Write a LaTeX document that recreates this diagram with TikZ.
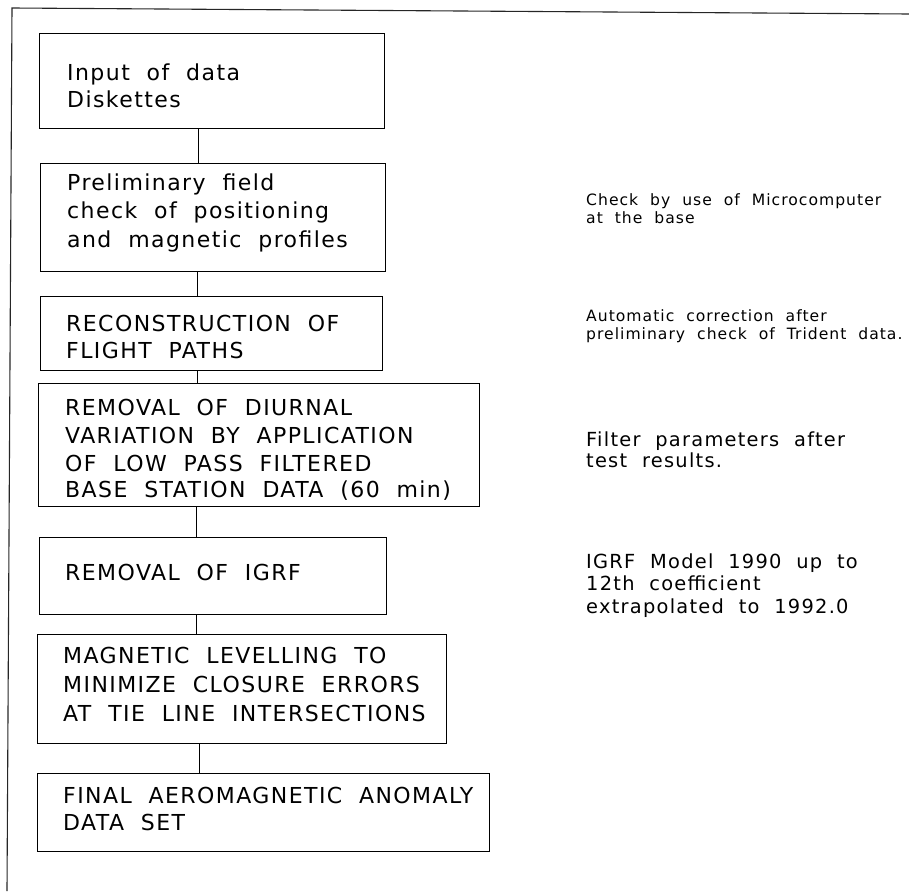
\documentclass[tikz,border=0pt]{standalone}
\usepackage{fontspec}
\newfontfamily\plotfont[LetterSpace=6.5,WordSpace=2]{DejaVu Sans}
\begin{document}
\begin{tikzpicture}[x=1pt,y=-1pt,
  box/.style={draw=black,line width=0.9pt,inner sep=0pt,rectangle},
  link/.style={draw=black,line width=0.9pt},
  frame/.style={draw=black!85,line width=1.1pt},
  big/.style={anchor=base west,inner sep=0pt,font=\plotfont\fontsize{22}{28}\selectfont},
  mid/.style={anchor=base west,inner sep=0pt,font=\plotfont\fontsize{19.4}{22}\selectfont},
  small/.style={anchor=base west,inner sep=0pt,font=\plotfont\fontsize{15.6}{18}\selectfont}]
\useasboundingbox (0,0) rectangle (909,891);
% frame
\coordinate (ftl) at (12,8);
\coordinate (ftr) at (909,14);
\coordinate (fbl) at (7,891);
\draw[frame] (ftr) -- (ftl) -- (fbl);
% boxes
\node[box,minimum width=345,minimum height=95] (b1) at (211.5,81) {};
\node[box,minimum width=345,minimum height=108] (b2) at (212.5,217) {};
\node[box,minimum width=342,minimum height=74] (b3) at (211,333) {};
\node[box,minimum width=441,minimum height=123] (b4) at (258.5,444.5) {};
\node[box,minimum width=347,minimum height=77] (b5) at (212.5,575.5) {};
\node[box,minimum width=409,minimum height=109] (b6) at (241.5,688.5) {};
\node[box,minimum width=452,minimum height=78] (b7) at (263,812) {};
% connector x positions
\coordinate (c1) at (198,0);
\coordinate (c2) at (197,0);
\coordinate (c3) at (197,0);
\coordinate (c4) at (196,0);
\coordinate (c5) at (196,0);
\coordinate (c6) at (199,0);
\draw[link] (b1.south -| c1) -- (b2.north -| c1);
\draw[link] (b2.south -| c2) -- (b3.north -| c2);
\draw[link] (b3.south -| c3) -- (b4.north -| c3);
\draw[link] (b4.south -| c4) -- (b5.north -| c4);
\draw[link] (b5.south -| c5) -- (b6.north -| c5);
\draw[link] (b6.south -| c6) -- (b7.north -| c6);
% box texts
\node[big] (t1a) at (67,80) {Input of data};
\node[big] (t1b) at (67,107) {Diskettes};
\node[big] (t2a) at (67,190) {Preliminary field};
\node[big] (t2b) at (67,218) {check of positioning};
\node[big] (t2c) at (67,247) {and magnetic profiles};
\node[big] (t3a) at (66,331) {RECONSTRUCTION OF};
\node[big] (t3b) at (66,358) {FLIGHT PATHS};
\node[big] (t4a) at (65,415) {REMOVAL OF DIURNAL};
\node[big] (t4b) at (65,443) {VARIATION BY APPLICATION};
\node[big] (t4c) at (65,471) {OF LOW PASS FILTERED};
\node[big] (t4d) at (65,497) {BASE STATION DATA (60 min)};
\node[big] (t5a) at (65,580) {REMOVAL OF IGRF};
\node[big] (t6a) at (63,663) {MAGNETIC LEVELLING TO};
\node[big] (t6b) at (63,692) {MINIMIZE CLOSURE ERRORS};
\node[big] (t6c) at (63,721) {AT TIE LINE INTERSECTIONS};
\node[big] (t7a) at (63,803) {FINAL AEROMAGNETIC ANOMALY};
\node[big] (t7b) at (63,830) {DATA SET};
% side notes
\node[small] (n1a) at (586,205) {Check by use of Microcomputer};
\node[small] (n1b) at (586,223) {at the base};
\node[small] (n2a) at (586,321) {Automatic correction after};
\node[small] (n2b) at (586,339) {preliminary check of Trident data.};
\node[mid] (n3a) at (586,446) {Filter parameters after};
\node[mid] (n3b) at (586,467) {test results.};
\node[mid] (n4a) at (586,568) {IGRF Model 1990 up to};
\node[mid] (n4b) at (586,590) {12th coefficient};
\node[mid] (n4c) at (586,613) {extrapolated to 1992.0};
\end{tikzpicture}
\end{document}
